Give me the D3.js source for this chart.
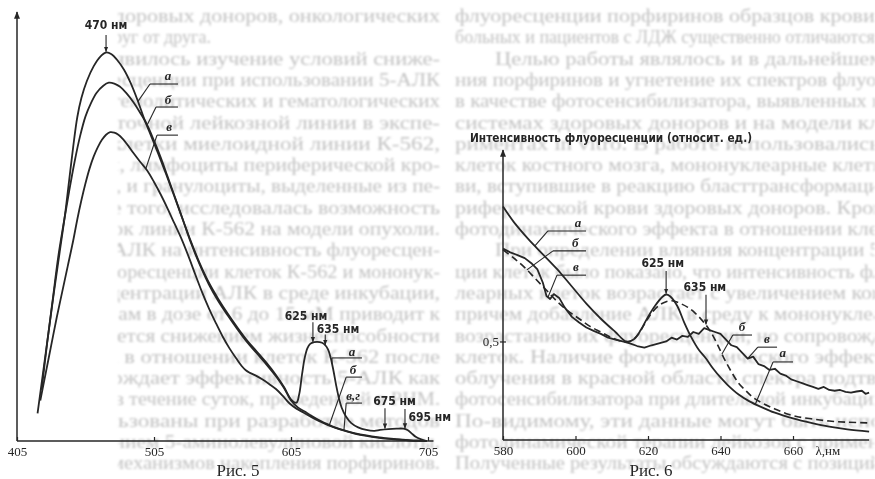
<!DOCTYPE html>
<html>
<head>
<meta charset="utf-8">
<script src="https://cdn.jsdelivr.net/npm/d3@7"></script>
<style>
body { margin: 0; background: #fff; }
svg { display: block; }
</style>
</head>
<body>
<svg id="page"></svg>
<script>
// ---- Рис. 5 : спектры (нм, относит. ед. 0..100) ----
var fig5A = [[420,6.5],[424,16],[428,25.5],[432,35],[436,44],[440,53],[443,61],[446,69],[449,76],[452,80.5],[456,84.5],[461,88],[466,90.3],[470,91.2],[474,90.8],[478,89.5],[483,87.2],[488,84],[493,80],[498,75.5],[503,71.5],[508,67.5],[514,62.5],[520,57.3],[526,52],[532,46.8],[538,42],[545,37.2],[552,33.3],[559,29.8],[566,26.6],[573,23.6],[580,21],[587,18.4],[594,15.5],[600,12.6],[605,9.8],[609,9],[611,11],[613,15.5],[615,19.5],[617,21.8],[619,22.8],[622,23.2],[626,23.2],[629,22.8],[632,21.5],[634,19.5],[636,16.5],[638,13],[640,10],[642,7.8],[645,5.8],[649,4.2],[654,3.2],[660,2.6],[666,2.4],[670,2.6],[676,2.8],[682,2.9],[687,2.9],[690,2.6],[693,1.8],[696,1],[700,0.4],[704,0]];
var fig5B = [[423,12],[427,23],[431,33],[435,43],[439,51],[443,58.5],[447,65.5],[451,71.5],[455,76.2],[459,79.3],[463,81.7],[468,83.4],[472,84.1],[476,83.9],[480,83.2],[485,81.6],[490,79.5],[495,77],[500,74.2],[505,70.5],[510,66.5],[515,62],[520,57.5],[526,52],[532,46.5],[538,41.7],[545,36.8],[552,32.8],[559,29.4],[566,26.2],[573,23.2],[580,20.6],[587,18],[594,15.2],[600,12.4],[605,9.5],[610,7.9],[615,6.9],[620,5.9],[626,4.8],[632,3.9],[638,3.1],[645,2.4],[652,1.8],[660,1.3],[668,0.9],[676,0.6],[684,0.35],[692,0.15],[700,0.05],[704,0]];
var fig5V = [[422,9.5],[426,16],[430,22.5],[434,29],[438,35],[442,41],[446,47],[449,52],[452,56.5],[455,60.5],[458,64],[461,66.8],[464,69],[467,70.7],[470,71.9],[473,72.5],[476,72.4],[479,71.9],[482,71],[486,69.4],[490,67.6],[495,65.5],[500,63.5],[505,60.8],[510,57.8],[515,54.5],[520,51],[525,47.5],[530,43.5],[535,39.2],[540,35],[545,31.2],[550,27.8],[555,24.6],[560,21.8],[565,19.4],[569,17.6],[572,16.6],[575,16],[579,15.4],[584,14.5],[589,13.4],[594,12.2],[599,10.6],[604,8.8],[609,7.6],[614,6.7],[620,5.6],[626,4.6],[632,3.7],[638,3],[645,2.3],[652,1.7],[660,1.2],[668,0.8],[676,0.5],[684,0.3],[692,0.12],[700,0.04],[704,0]];
var fig5Ticks = [405, 505, 605, 705];

// ---- Рис. 6 : спектры (нм, относит. ед.) ----
var fig6A = [[580,0.856],[583,0.815],[587,0.77],[591,0.73],[595,0.69],[599,0.645],[603,0.6],[607,0.56],[611,0.525],[614,0.5],[616,0.505],[618,0.53],[620,0.565],[622,0.595],[624,0.618],[625,0.624],[626,0.62],[628,0.595],[630,0.55],[632,0.51],[634,0.478],[636,0.455],[638,0.428],[640,0.405],[642,0.385],[645,0.36],[648,0.342],[651,0.328],[655,0.312],[660,0.297],[665,0.285],[670,0.275],[675,0.268],[681,0.262]];
var fig6B = [[580,0.742],[583,0.72],[586,0.695],[589,0.665],[592,0.635],[595,0.605],[598,0.58],[601,0.56],[604,0.54],[607,0.525],[610,0.51],[613,0.5],[615,0.5],[617,0.515],[619,0.545],[621,0.575],[623,0.595],[625,0.605],[627,0.607],[629,0.6],[631,0.59],[633,0.575],[635,0.555],[637,0.53],[639,0.495],[641,0.455],[643,0.42],[645,0.39],[647,0.37],[649,0.352],[652,0.335],[655,0.322],[658,0.31],[661,0.302],[665,0.296],[670,0.29],[675,0.287],[681,0.285]];
var fig6V = [[580,0.745],[582,0.735],[584,0.728],[586,0.72],[588,0.705],[589.5,0.69],[591,0.655],[592,0.62],[593,0.612],[594,0.625],[595.5,0.615],[597,0.59],[599,0.565],[601,0.55],[603,0.537],[605,0.528],[607,0.52],[609,0.51],[611,0.505],[613,0.5],[615,0.495],[617,0.488],[619,0.484],[621,0.49],[623,0.495],[625,0.5],[626.5,0.51],[628,0.505],[629.5,0.515],[631,0.512],[632.5,0.525],[634,0.52],[635.5,0.535],[637,0.53],[638.5,0.525],[640,0.52],[641.5,0.505],[643,0.49],[644.5,0.485],[646,0.47],[647.5,0.455],[649,0.46],[650.5,0.44],[652,0.435],[653.5,0.425],[655,0.428],[656.5,0.415],[658,0.41],[659.5,0.4],[661,0.395],[662.5,0.39],[664,0.385],[665.5,0.38],[667,0.375],[668.5,0.38],[670,0.372],[671.5,0.37],[673,0.372],[674.5,0.367],[676,0.365],[677.5,0.368],[679,0.37],[680,0.362],[681,0.365]];
var fig6Ticks = [580, 600, 620, 640, 660];
var fig6YTicks = [0.5];

// annotations (in data units)
var fig5Peaks = [
  {text:"470 нм", at:[470, 96.6], nm:470, from:95.3, curve:"a", anchor:"middle"},
  {text:"625 нм", at:[616, 28.4], nm:621, from:27.9, curve:"a", anchor:"middle"},
  {text:"635 нм", at:[639.3, 25.4], nm:630, from:25.0, curve:"a", anchor:"middle"},
  {text:"675 нм", at:[680.5, 8.5], nm:673.6, from:7.7, curve:"a", anchor:"middle"},
  {text:"695 нм", at:[690.8, 4.8], nm:688.2, from:7.5, curve:"a", anchor:"start"}
];
var fig5Labels = [
  {text:"а", at:[515.2, 84.7], u:[502.1, 522.5, 83.8], touch:493.3, curve:"a"},
  {text:"б", at:[515.2, 79.1], u:[506.5, 522.5, 78.4], touch:500, curve:"b"},
  {text:"в", at:[516, 72.8], u:[507.2, 522.5, 71.8], touch:499, curve:"v"},
  {text:"а", at:[649.5, 19.95], u:[634.9, 656.8, 19.5], touch:634.9, curve:"a"},
  {text:"б", at:[650.3, 15.7], u:[645.3, 656.8, 15.0], touch:633, curve:"b"},
  {text:"в,г", at:[650.3, 9.6], u:[645.3, 656.8, 8.9], touch:643.6, curve:"v"}
];
var fig6Peaks = [
  {text:"625 нм", at:[624.1, 0.697], nm:625, from:0.686, curve:"a", anchor:"middle"},
  {text:"635 нм", at:[635.7, 0.633], nm:636, from:0.623, curve:"b", anchor:"middle"}
];
var fig6Labels = [
  {text:"а", at:[600.7, 0.802], u:[592.4, 602.9, 0.7916], touch:588.8, curve:"a"},
  {text:"б", at:[599.9, 0.749], u:[593.8, 602.9, 0.739], touch:586.6, curve:"b"},
  {text:"в", at:[600.1, 0.686], u:[594.9, 602.9, 0.675], touch:592.4, curve:"v"},
  {text:"б", at:[645.9, 0.528], u:[643.4, 648.7, 0.517], touch:640.4, curve:"b"},
  {text:"в", at:[652.8, 0.496], u:[650.3, 655.6, 0.485], touch:647.5, curve:"v"},
  {text:"а", at:[657.2, 0.459], u:[654.5, 660, 0.446], touch:649.6, curve:"a"}
];

// faded page text behind the figures
var pageLines = [
  {t:"флуоресценции порфиринов образцов крови здоровых доноров, онкологических", full:true},
  {t:"больных и пациентов с ЛДЖ существенно отличаются друг от друга."},
  {t:"Целью работы являлось и в дальнейшем явилось изучение условий сниже-", full:true, indent:true},
  {t:"ния порфиринов и угнетение их спектров флуоресценции при использовании 5-АЛК", full:true},
  {t:"в качестве фотосенсибилизатора, выявленных в гемолитических и гематологических", full:true},
  {t:"системах здоровых доноров и на модели клеточной лейкозной линии в экспе-", full:true},
  {t:"риментах in vitro. В работе использовались клетки миелоидной линии К-562,", full:true},
  {t:"клеток костного мозга, мононуклеарные клетки, лимфоциты периферической кро-", full:true},
  {t:"ви, вступившие в реакцию бласттрансформации, и гранулоциты, выделенные из пе-", full:true},
  {t:"риферической крови здоровых доноров. Кроме того, исследовалась возможность", full:true},
  {t:"фотодинамического эффекта в отношении клеток линии К-562 на модели опухоли.", full:true},
  {t:"При определении влияния концентрации 5-АЛК на интенсивность флуоресцен-", full:true, indent:true},
  {t:"ции клеток было показано, что интенсивность флуоресценции клеток К-562 и мононук-", full:true},
  {t:"леарных клеток возрастает с увеличением концентрации АЛК в среде инкубации,", full:true},
  {t:"причем добавление АЛК в среду к мононуклеарам в дозе от 6 до 15 мМ приводит к", full:true},
  {t:"возрастанию их флуоресценции, но сопровождается снижением жизнеспособности", full:true},
  {t:"клеток. Наличие фотодинамического эффекта в отношении клеток К-562 после", full:true},
  {t:"облучения в красной области спектра подтверждает эффективность 5-АЛК как", full:true},
  {t:"фотосенсибилизатора при длительной инкубации в течение суток, проведенной в РНМ.", full:true},
  {t:"По-видимому, эти данные могут быть использованы при разработке методов", full:true},
  {t:"фотодинамической терапии лейкозов с применением 5-аминолевулиновой кислоты.", full:true},
  {t:"Полученные результаты обсуждаются с позиций механизмов накопления порфиринов.", full:true}
];

var W = 875, H = 479;
var ink = "#262626";
var svg = d3.select("#page").attr("width", W).attr("height", H);
var defs = svg.append("defs");
defs.append("filter").attr("id", "soft").append("feGaussianBlur").attr("stdDeviation", 0.8);
defs.append("clipPath").attr("id", "clipL").append("rect")
  .attr("x", 118).attr("y", 0).attr("width", 325).attr("height", H);
defs.append("clipPath").attr("id", "clipR").append("rect")
  .attr("x", 450).attr("y", 0).attr("width", 425).attr("height", H);
defs.append("marker").attr("id", "arr")
  .attr("viewBox", "0 0 10 10").attr("refX", 9).attr("refY", 5)
  .attr("markerWidth", 5).attr("markerHeight", 5).attr("orient", "auto")
  .append("path").attr("d", "M0,1 L10,5 L0,9 z").attr("fill", ink);

// background text (wraps around: the tail of each line shows on the left)
var bg = svg.append("g").attr("filter", "url(#soft)").attr("fill", "#c2c2c2")
  .style("font-family", "'Liberation Serif', 'DejaVu Serif', serif").style("font-size", "18px");
pageLines.forEach(function(line, i) {
  var y = 22 + i * 21.3;
  var x0 = 455 + (line.indent ? 40 : 0);
  [0, -775].forEach(function(shift) {
    var t = bg.append("text").attr("x", x0 + shift).attr("y", y).text(line.t)
      .attr("clip-path", shift ? "url(#clipL)" : "url(#clipR)");
    if (line.full) t.attr("textLength", 760 - (line.indent ? 40 : 0)).attr("lengthAdjust", "spacingAndGlyphs");
  });
});

function valueAt(series, nm) {
  for (var i = 1; i < series.length; i++) {
    if (series[i][0] >= nm) {
      var p = series[i - 1], q = series[i];
      var t = (nm - p[0]) / (q[0] - p[0]);
      return p[1] + t * (q[1] - p[1]);
    }
  }
  return series[series.length - 1][1];
}

function drawAnnotations(g, x, y, curves, peaks, labels) {
  peaks.forEach(function(p) {
    g.append("text").attr("x", x(p.at[0])).attr("y", y(p.at[1]))
      .attr("text-anchor", p.anchor).text(p.text)
      .style("font-family", "'Liberation Sans Narrow', 'DejaVu Sans Condensed', sans-serif")
      .style("font-weight", "bold").style("font-size", "12px").attr("fill", ink);
    g.append("line")
      .attr("x1", x(p.nm)).attr("y1", y(p.from))
      .attr("x2", x(p.nm)).attr("y2", y(valueAt(curves[p.curve], p.nm)) - 1)
      .attr("stroke", ink).attr("stroke-width", 1.1).attr("marker-end", "url(#arr)");
  });
  labels.forEach(function(l) {
    g.append("text").attr("x", x(l.at[0])).attr("y", y(l.at[1]))
      .attr("text-anchor", "middle").text(l.text)
      .style("font-family", "'Liberation Serif', serif").style("font-style", "italic")
      .style("font-weight", "bold").style("font-size", "13px").attr("fill", ink);
    g.append("line")
      .attr("x1", x(l.u[0])).attr("y1", y(l.u[2]))
      .attr("x2", x(l.u[1])).attr("y2", y(l.u[2]))
      .attr("stroke", ink).attr("stroke-width", 1.1);
    g.append("line")
      .attr("x1", x(l.u[0])).attr("y1", y(l.u[2]))
      .attr("x2", x(l.touch)).attr("y2", y(valueAt(curves[l.curve], l.touch)))
      .attr("stroke", ink).attr("stroke-width", 1.1);
  });
}

function styleAxis(ax) {
  ax.select(".domain").remove();
  ax.selectAll(".tick line").attr("stroke", ink).attr("stroke-width", 1.2);
  ax.selectAll(".tick text").attr("fill", ink)
    .style("font-family", "'Liberation Serif', serif").style("font-size", "13px");
}

// ================= Рис. 5 =================
var x5 = d3.scaleLinear().domain([405, 705]).range([17, 428]);
var y5 = d3.scaleLinear().domain([0, 100]).range([441, 15]);
var g5 = svg.append("g");

g5.append("line").attr("x1", x5(405)).attr("y1", y5(0)).attr("x2", x5(709)).attr("y2", y5(0))
  .attr("stroke", ink).attr("stroke-width", 1.5);
g5.append("line").attr("x1", x5(405)).attr("y1", y5(0)).attr("x2", x5(405)).attr("y2", y5(100) - 3)
  .attr("stroke", ink).attr("stroke-width", 1.5).attr("marker-end", "url(#arr)");
var ax5 = g5.append("g").attr("transform", "translate(0," + y5(0) + ")")
  .call(d3.axisBottom(x5).tickValues(fig5Ticks).tickSize(-4).tickPadding(6).tickFormat(d3.format("d")));
styleAxis(ax5);

var line5 = d3.line().x(function(d) { return x5(d[0]); }).y(function(d) { return y5(d[1]); })
  .curve(d3.curveCatmullRom.alpha(0.5));
var curves5 = {a: fig5A, b: fig5B, v: fig5V};
[fig5A, fig5B, fig5V].forEach(function(s) {
  g5.append("path").datum(s).attr("d", line5).attr("fill", "none")
    .attr("stroke", ink).attr("stroke-width", 1.8).attr("stroke-linejoin", "round");
});
drawAnnotations(g5, x5, y5, curves5, fig5Peaks, fig5Labels);

g5.append("text").attr("x", 238).attr("y", 476).attr("text-anchor", "middle").text("Рис. 5")
  .style("font-family", "'Liberation Serif', serif").style("font-size", "17px").attr("fill", ink);

// ================= Рис. 6 =================
var x6 = d3.scaleLinear().domain([580, 660]).range([503, 793]);
var y6 = d3.scaleLinear().domain([0.24, 1.0]).range([440, 152]);
var g6 = svg.append("g");

g6.append("line").attr("x1", x6(580)).attr("y1", y6(0.24)).attr("x2", x6(681)).attr("y2", y6(0.24))
  .attr("stroke", ink).attr("stroke-width", 1.5);
g6.append("line").attr("x1", x6(580)).attr("y1", y6(0.24)).attr("x2", x6(580)).attr("y2", y6(1.0) - 2)
  .attr("stroke", ink).attr("stroke-width", 1.5).attr("marker-end", "url(#arr)");
var ax6 = g6.append("g").attr("transform", "translate(0," + y6(0.24) + ")")
  .call(d3.axisBottom(x6).tickValues(fig6Ticks).tickSize(-4).tickPadding(6).tickFormat(d3.format("d")));
styleAxis(ax6);
var ay6 = g6.append("g").attr("transform", "translate(" + (x6(580) + 3) + ",0)")
  .call(d3.axisLeft(y6).tickValues(fig6YTicks).tickSize(6).tickPadding(1)
    .tickFormat(function(d) { return String(d).replace(".", ","); }));
styleAxis(ay6);

g6.append("text").attr("x", x6(669.6)).attr("y", y6(0.24) + 15).attr("text-anchor", "middle").text("λ,нм")
  .style("font-family", "'Liberation Serif', serif").style("font-size", "13px").attr("fill", ink);
g6.append("text").attr("x", 611).attr("y", 142).attr("text-anchor", "middle")
  .text("Интенсивность флуоресценции (относит. ед.)")
  .attr("textLength", 282).attr("lengthAdjust", "spacingAndGlyphs")
  .style("font-family", "'Liberation Sans Narrow', 'DejaVu Sans Condensed', sans-serif")
  .style("font-weight", "bold").style("font-size", "12px").attr("fill", ink);

var smooth6 = d3.line().x(function(d) { return x6(d[0]); }).y(function(d) { return y6(d[1]); })
  .curve(d3.curveCatmullRom.alpha(0.5));
var rough6 = d3.line().x(function(d) { return x6(d[0]); }).y(function(d) { return y6(d[1]); });
var curves6 = {a: fig6A, b: fig6B, v: fig6V};
g6.append("path").datum(fig6A).attr("d", smooth6).attr("fill", "none")
  .attr("stroke", ink).attr("stroke-width", 1.8);
g6.append("path").datum(fig6B).attr("d", smooth6).attr("fill", "none")
  .attr("stroke", ink).attr("stroke-width", 1.6).attr("stroke-dasharray", "7,4");
g6.append("path").datum(fig6V).attr("d", rough6).attr("fill", "none")
  .attr("stroke", ink).attr("stroke-width", 1.8).attr("stroke-linejoin", "round");
drawAnnotations(g6, x6, y6, curves6, fig6Peaks, fig6Labels);

g6.append("text").attr("x", 651).attr("y", 476).attr("text-anchor", "middle").text("Рис. 6")
  .style("font-family", "'Liberation Serif', serif").style("font-size", "17px").attr("fill", ink);
</script>
</body>
</html>
